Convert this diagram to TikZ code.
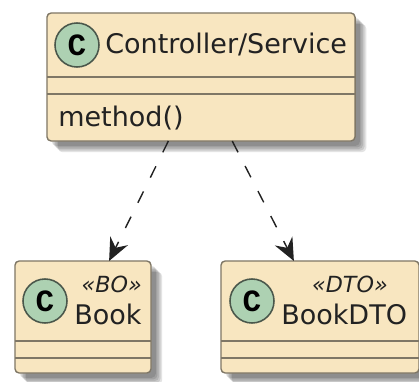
\documentclass[tikz,border=0pt]{standalone}
\usepackage{fontspec}
\setmainfont{DejaVu Sans}
\newfontfamily\spotfont{Liberation Mono}
\usepackage{tikz}
\usetikzlibrary{positioning}
\usetikzlibrary{arrows.meta}
\usetikzlibrary{shadows}
\definecolor{boxfill}{HTML}{F8E6C0}
\definecolor{boxline}{HTML}{7F7766}
\definecolor{spotfill}{HTML}{ADD1B2}
\definecolor{spotline}{HTML}{4A574B}
\definecolor{inktext}{HTML}{222222}

\begin{document}
\begin{tikzpicture}[
            x = 0.025cm,
            y = -0.025cm,
            softshadow/.style = {
                drop shadow = {shadow xshift = #1, shadow yshift = -#1, fill = black, opacity = 0.11}
            },
            classbox/.style = {
                draw = boxline,
                fill = boxfill,
                line width = 1pt,
                rounded corners = 3pt,
                minimum width = #1,
                inner sep = 0pt,
                outer sep = 0pt,
                softshadow = 0.28cm,
                softshadow = 0.24cm,
                softshadow = 0.20cm,
                softshadow = 0.16cm,
                softshadow = 0.12cm
            },
            classbox/.default = 3.4cm,
            spot/.style = {
                draw = spotline,
                fill = spotfill,
                circle,
                line width = 1.1pt,
                minimum size = 1.1cm,
                inner sep = 0pt,
                font = \spotfont\fontsize{22}{22}\selectfont\bfseries,
                text = black
            },
            label/.style = {
                font = \fontsize{19.2}{22}\selectfont,
                text = inktext,
                inner sep = 0pt
            },
            stereo/.style = {
                font = \fontsize{15.8}{18}\selectfont\itshape,
                text = inktext,
                inner sep = 0pt
            },
            divider/.style = {draw = boxline, line width = 1pt},
            depends/.style = {
                draw = inktext,
                line width = 1pt,
                dash pattern = on 9pt off 11pt,
                -{Stealth[inset = 5.5pt, length = 16pt, width = 14pt]}
            }
            ]
            \useasboundingbox (0,0) rectangle (419,381);

            \node[classbox=7.7cm, minimum height = 3.2cm] (ctrl) at (201,77) {};
            \node[classbox=3.4cm, minimum height = 2.8cm] (book) at (83,317) {};
            \node[classbox=4.95cm, minimum height = 2.8cm] (dto) at (320,317) {};

            % compartments
            \draw[divider] ([yshift=-1.6cm]ctrl.north west) -- ([yshift=-1.6cm]ctrl.north east);
            \draw[divider] ([yshift=-2.025cm]ctrl.north west) -- ([yshift=-2.025cm]ctrl.north east);
            \foreach \name in {book, dto} {
                \draw[divider] ([yshift=-2cm]\name.north west) -- ([yshift=-2cm]\name.north east);
                \draw[divider] ([yshift=-2.425cm]\name.north west) -- ([yshift=-2.425cm]\name.north east);
            }

            \node[spot] (ctrlspot) at (77,45) {C};
            \node[spot] (bookspot) at (45,301) {C};
            \node[spot] (dtospot) at (252,301) {C};

            \node[label, anchor = base west] (ctrltext) at (105,54) {Controller/Service};
            \node[label, anchor = base west] (ctrlmethod) at (58,126) {method()};
            \node[label, anchor = base west] (booktext) at (74,324) {Book};
            \node[label, anchor = base west] (dtotext) at (281,324) {BookDTO};
            \node[stereo, anchor = base east] (bookstereo) at (142,292) {«BO»};
            \node[stereo, anchor = base east] (dtostereo) at (388,292) {«DTO»};

            \draw[depends] (ctrl.243) -- (book.65);
            \draw[depends] (ctrl.296) -- (dto.115);
        \end{tikzpicture}
\end{document}
